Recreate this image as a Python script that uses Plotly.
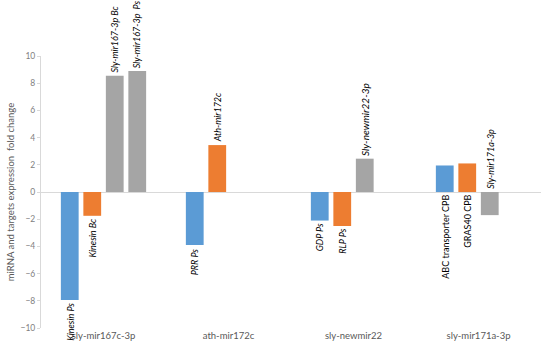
import plotly.graph_objects as go

categories = ["sly-mir167c-3p", "ath-mir172c", "sly-newmir22", "sly-mir171a-3p"]
blue_vals = [-7.95, -3.9, -2.1, 1.95]
orange_vals = [-1.75, 3.45, -2.5, 2.1]
gray_vals = [8.55, None, 2.45, -1.7]
gray2_vals = [8.9, None, None, None]
blue_labels = ["Kinesin Ps", "PRR Ps", "GDP Ps", "ABC transporter CPB"]
orange_labels = ["Kinesin Bc", "Ath-mir172c", "RLP Ps", "GRAS40 CPB"]
gray_labels = ["Sly-mir167-3p Bc", "", "Sly-newmir22-3p", "Sly-mir171a-3p"]
gray2_labels = ["Sly-mir167-3p  Ps", "", "", ""]
label_at_base = [False, False, False, True]
italic_blue = [True, True, True, False]
italic_orange = [True, True, True, False]
yticks = [-10, -8, -6, -4, -2, 0, 2, 4, 6, 8, 10]

FONT = "Lato, Carlito, sans-serif"
colors = ["#5B9BD5", "#ED7D31", "#A5A5A5", "#A5A5A5"]
series = [blue_vals, orange_vals, gray_vals, gray2_vals]
labels = [blue_labels, orange_labels, gray_labels, gray2_labels]
italics = [italic_blue, italic_orange, [True] * 4, [True] * 4]
label_sizes = [9, 9, [9, 9, 10, 9], 9]

xs = list(range(len(categories)))
fig = go.Figure()
for vals, col in zip(series, colors):
    fig.add_trace(go.Bar(x=xs, y=vals, marker=dict(color=col, line=dict(width=0)),
                         showlegend=False))

bargap = 0.28
slot = (1 - bargap) / 4
annotations = []
for si, (vals, labs) in enumerate(zip(series, labels)):
    for ci, (v, lab) in enumerate(zip(vals, labs)):
        if v is None or not lab:
            continue
        xc = ci - (1 - bargap) / 2 + slot * (si + 0.5)
        if label_at_base[ci]:
            y = 0
            up = v < 0
        else:
            y = v
            up = v > 0
        txt = f"<i>{lab}</i>" if italics[si][ci] else lab
        sz = label_sizes[si][ci] if isinstance(label_sizes[si], list) else label_sizes[si]
        annotations.append(dict(
            x=xc, y=y, xref="x", yref="y", text=txt, showarrow=False,
            textangle=-90, xanchor="center",
            yanchor="bottom" if up else "top",
            yshift=1 if up else -1,
            font=dict(family=FONT, size=sz, color="#000000"),
        ))

fig.update_layout(
    width=550, height=356,
    margin=dict(l=41, r=9, t=56, b=28),
    paper_bgcolor="white", plot_bgcolor="white",
    barmode="group", bargap=bargap, bargroupgap=0.21,
    font=dict(family=FONT, color="#595959"),
    annotations=annotations,
    xaxis=dict(tickvals=xs, ticktext=categories, range=[-0.5, 3.5],
               showline=False, showgrid=False, zeroline=False, ticks="",
               automargin=False,
               tickfont=dict(size=9.5, color="#595959")),
    yaxis=dict(range=[-10, 10], tickvals=yticks, showgrid=False,
               showline=True, linecolor="#d9d9d9", linewidth=1,
               ticks="outside", ticklen=3, tickcolor="#d9d9d9",
               zeroline=True, zerolinecolor="#d9d9d9", zerolinewidth=1,
               automargin=False,
               tickfont=dict(size=8.5, color="#7f7f7f"),
               title=dict(text="miRNA and targets expression  fold change",
                          font=dict(size=9.5, color="#595959"), standoff=4)),
)
fig.write_html("out.html", config={"displayModeBar": False},
               post_script="document.body.style.margin='0';document.body.style.overflow='hidden';")
